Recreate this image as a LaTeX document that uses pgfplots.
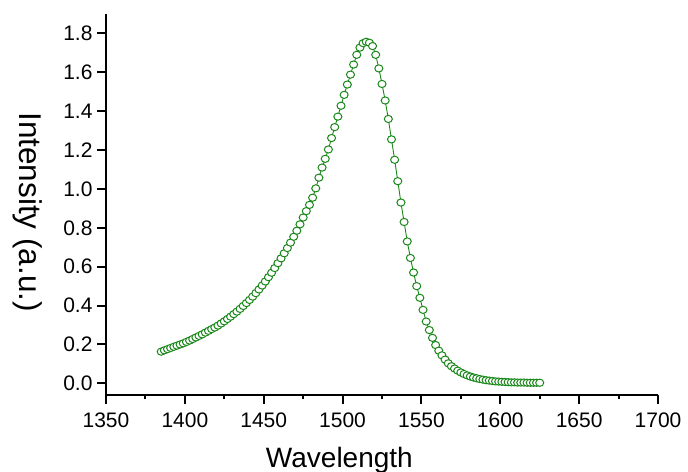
\documentclass[border=0pt]{standalone}
\usepackage{pgfplots}
\pgfplotsset{compat=1.18}
\usepackage{fontspec}
\setmainfont{Liberation Sans}
\definecolor{dgreen}{RGB}{25,135,25}
\pgfplotstableread{
w v
1385 0.163
1387 0.170
1389 0.176
1391 0.182
1393 0.188
1395 0.194
1397 0.200
1399 0.206
1401 0.213
1403 0.220
1405 0.228
1407 0.236
1409 0.244
1411 0.252
1413 0.261
1415 0.270
1417 0.279
1419 0.287
1421 0.297
1423 0.308
1425 0.319
1427 0.331
1429 0.343
1431 0.356
1433 0.369
1435 0.383
1437 0.398
1439 0.413
1441 0.429
1443 0.446
1445 0.464
1447 0.483
1449 0.503
1451 0.524
1453 0.546
1455 0.569
1457 0.593
1459 0.618
1461 0.643
1463 0.669
1465 0.696
1467 0.724
1469 0.754
1471 0.785
1473 0.818
1475 0.853
1477 0.886
1479 0.918
1481 0.955
1483 1.003
1485 1.058
1487 1.110
1489 1.155
1491 1.203
1493 1.262
1495 1.318
1497 1.372
1499 1.428
1501 1.484
1503 1.537
1505 1.588
1507 1.640
1509 1.690
1511 1.727
1513 1.750
1515 1.757
1517 1.752
1519 1.735
1521 1.690
1523 1.620
1525 1.540
1527 1.455
1529 1.360
1531 1.255
1533 1.150
1535 1.040
1537 0.930
1539 0.830
1541 0.730
1543 0.645
1545 0.570
1547 0.500
1549 0.440
1551 0.378
1553 0.318
1555 0.274
1557 0.234
1559 0.197
1561 0.168
1563 0.144
1565 0.122
1567 0.103
1569 0.088
1571 0.076
1573 0.065
1575 0.056
1577 0.048
1579 0.041
1581 0.035
1583 0.030
1585 0.026
1587 0.022
1589 0.019
1591 0.016
1593 0.014
1595 0.012
1597 0.010
1599 0.009
1601 0.008
1603 0.007
1605 0.006
1607 0.005
1609 0.005
1611 0.004
1613 0.004
1615 0.004
1617 0.003
1619 0.003
1621 0.003
1623 0.003
1625 0.003
}\spectrum
\begin{document}
\begin{tikzpicture}[x=1bp,y=1bp]
\path[use as bounding box] (0,0) rectangle (688,472);
\begin{axis}[
  at={(106bp,77bp)}, anchor=south west,
  scale only axis, width=552bp, height=381bp,
  xmin=1350, xmax=1700, ymin=-0.06, ymax=1.90,
  axis x line*=bottom, axis y line*=left,
  axis line style={line width=2.2bp, black, -},
  every tick/.style={line width=2bp, black},
  tick align=outside,
  major tick length=9bp, minor tick length=4.5bp,
  xtick={1350,1400,1450,1500,1550,1600,1650,1700},
  minor x tick num=1,
  ytick={0,0.2,0.4,0.6,0.8,1.0,1.2,1.4,1.6,1.8},
  /pgf/number format/assume math mode=true,
  xticklabel style={font=\fontsize{21bp}{24bp}\selectfont, yshift=-5bp, /pgf/number format/1000 sep={}},
  yticklabel style={font=\fontsize{21bp}{24bp}\selectfont, xshift=-1bp, /pgf/number format/.cd, fixed, fixed zerofill, precision=1},
  xlabel={Wavelength},
  ylabel={Intensity (a.u.)},
  xlabel style={font=\fontsize{28bp}{32bp}\selectfont, at={(axis description cs:0.4228,-0.189)}, anchor=base},
  ylabel style={font=\fontsize{31.5bp}{34bp}\selectfont, at={(axis description cs:-0.1413,0.48)}, anchor=center, rotate=180},
  clip=false,
]
\addplot[color=dgreen, line width=0.9bp, mark=*, mark size=3.6bp,
  mark options={draw=dgreen, fill=white, line width=1bp, solid, xscale=1.12}] table[x=w, y=v] {\spectrum};
\end{axis}
\end{tikzpicture}
\end{document}
